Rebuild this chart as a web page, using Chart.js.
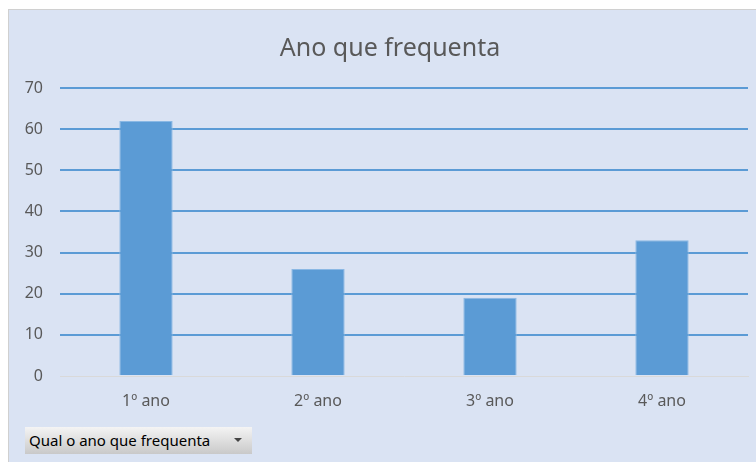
<!DOCTYPE html>
<html>
<head>
<meta charset="utf-8">
<script src="https://cdn.jsdelivr.net/npm/chart.js@4/dist/chart.umd.min.js"></script>
<style>
  html, body { margin: 0; padding: 0; background: #fff; overflow: hidden; }
  #wrap {
    position: absolute; left: 8px; top: 9px; width: 748px; height: 453px;
    background: #dae3f3; border-left: 1px solid #d0d0d0; border-top: 1px solid #d0d0d0;
    overflow: hidden;
  }
  #chart { display: block; }
  #title {
    position: absolute; left: 0; top: 21px; width: 762px; text-align: center;
    font-family: "Noto Sans", sans-serif; font-size: 25px; line-height: 30px; color: #595959;
  }
  #pivotBtn {
    position: absolute; left: 16px; top: 417px; width: 227px; height: 27px;
    background: linear-gradient(#f4f4f4, #c9c9c9);
    font-family: "Noto Sans", sans-serif; font-size: 15px; color: #000;
    line-height: 27px; padding-left: 4px; box-sizing: border-box;
  }
  #pivotBtn .arrow {
    position: absolute; right: 10px; top: 11px; width: 0; height: 0;
    border-left: 4px solid transparent; border-right: 4px solid transparent;
    border-top: 4px solid #444;
  }
</style>
</head>
<body>
<div id="wrap">
  <canvas id="chart" width="747" height="452"></canvas>
  <div id="title">Ano que frequenta</div>
  <div id="pivotBtn">Qual o ano que frequenta<span class="arrow"></span></div>
</div>
<script>
const categories = ['1º ano', '2º ano', '3º ano', '4º ano'];
const counts = [62, 26, 19, 33];
const yTicks = [0, 10, 20, 30, 40, 50, 60, 70];

const textColor = '#595959';
const fontFamily = '"Noto Sans", sans-serif';

const ctx = document.getElementById('chart').getContext('2d');
new Chart(ctx, {
    type: 'bar',
    data: {
        labels: categories,
        datasets: [
            {
                label: 'Total',
                data: counts,
                backgroundColor: '#5b9bd5',
                borderColor: '#8ab8e4',
                borderWidth: 1,
                barPercentage: 0.31,
                categoryPercentage: 1,
            },
        ],
    },
    options: {
        responsive: false,
        animation: false,
        layout: { padding: { left: 0, right: 8, top: 78, bottom: 0 } },
        plugins: {
            legend: { display: false },
            tooltip: { enabled: false },
            title: { display: false },
        },
        scales: {
            x: {
                grid: { display: false, drawTicks: false },
                border: { color: '#d9d9d9', width: 1 },
                ticks: { color: textColor, font: { family: fontFamily, size: 16 }, padding: 16 },
                afterFit: (scale) => { scale.height = 86; },
            },
            y: {
                min: yTicks[0],
                max: yTicks[yTicks.length - 1],
                afterBuildTicks: (scale) => { scale.ticks = yTicks.map((v) => ({ value: v })); },
                grid: {
                    drawTicks: false,
                    color: (c) => (c.tick && c.tick.value === 0 ? 'rgba(0,0,0,0)' : '#5b9bd5'),
                    lineWidth: 2,
                },
                border: { display: false },
                ticks: { color: textColor, font: { family: fontFamily, size: 16 }, padding: 17 },
                afterFit: (scale) => { scale.width = 51; },
            },
        },
    },
});
</script>
</body>
</html>
